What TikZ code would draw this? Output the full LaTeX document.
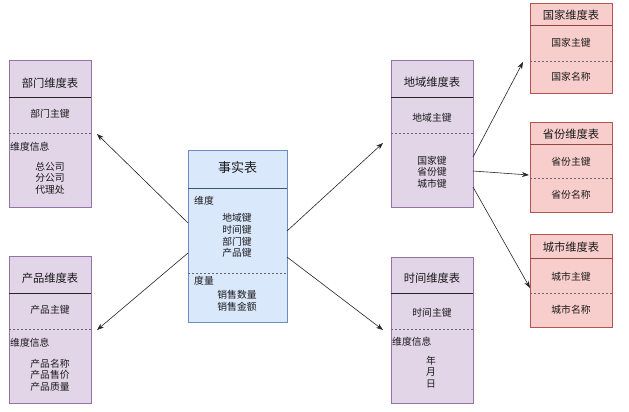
\documentclass[tikz,border=0pt]{standalone}
\usepackage{fontspec}
\setmainfont{Noto Sans CJK SC}
\usetikzlibrary{arrows.meta}
\definecolor{pfill}{HTML}{E1D5E7}
\definecolor{pdraw}{HTML}{9673A6}
\definecolor{bfill}{HTML}{DAE8FC}
\definecolor{bdraw}{HTML}{6C8EBF}
\definecolor{rfill}{HTML}{F8CECC}
\definecolor{rdraw}{HTML}{B85450}
\definecolor{tx}{HTML}{1A1A1A}
\begin{document}
\begin{tikzpicture}[x=1pt,y=-1pt,
  tbl/.style={line width=0.8pt, anchor=north west, inner sep=0pt, outer sep=0pt},
  ptbl/.style={tbl, draw=pdraw, fill=pfill},
  btbl/.style={tbl, draw=bdraw, fill=bfill},
  rtbl/.style={tbl, draw=rdraw, fill=rfill},
  sepline/.style={draw=black!85, line width=0.8pt},
  rsep/.style={draw=rdraw!80!black, line width=0.8pt},
  dashline/.style={draw=black!60, line width=0.7pt, dash pattern=on 2pt off 2pt},
  ttl/.style={font=\fontsize{11.3}{12}\selectfont, text=tx, inner sep=0pt},
  txt/.style={font=\fontsize{9.8}{11.6}\selectfont, text=tx, inner sep=0pt, align=center},
  ltxt/.style={font=\fontsize{9.8}{11.6}\selectfont, text=tx, inner sep=0pt, anchor=west},
  arr/.style={-{Stealth[length=7pt,width=5pt]}, line width=0.6pt, draw=black!85}]
\useasboundingbox[fill=white] (0,0) rectangle (629,412);

% ---------- 部门维度表 ----------
\node[ptbl, minimum width=82pt, minimum height=147pt] (bm) at (9,60) {};
\draw[sepline] (9,97) -- (91,97);
\draw[dashline] (9,133) -- (91,133);
\node[ttl] (bmt) at (50,83) {部门维度表};
\node[txt] (bmk) at (50,114) {部门主键};
\node[ltxt] (bmi) at (10,147) {维度信息};
\node[txt] (bml) at (50,178) {总公司\\分公司\\代理处};

% ---------- 产品维度表 ----------
\node[ptbl, minimum width=82pt, minimum height=147pt] (cp) at (9,256) {};
\draw[sepline] (9,293) -- (91,293);
\draw[dashline] (9,329) -- (91,329);
\node[ttl] (cpt) at (50,278) {产品维度表};
\node[txt] (cpk) at (50,310) {产品主键};
\node[ltxt] (cpi) at (10,343) {维度信息};
\node[txt] (cpl) at (50,375) {产品名称\\产品售价\\产品质量};

% ---------- 事实表 ----------
\node[btbl, minimum width=99pt, minimum height=172pt] (fact) at (188,150) {};
\draw[draw=bdraw!60!black, line width=0.8pt] (188,188) -- (287,188);
\draw[dashline] (188,273) -- (287,273);
\node[font=\fontsize{13}{14}\selectfont, text=tx, inner sep=0pt] (factt) at (237.5,168) {事实表};
\node[ltxt] (factw) at (194,201) {维度};
\node[txt] (factk) at (237,235.5) {地域键\\时间键\\部门键\\产品键};
\node[ltxt] (factm) at (194,281) {度量};
\node[txt] (factv) at (237,301) {销售数量\\销售金额};

% ---------- 地域维度表 ----------
\node[ptbl, minimum width=82pt, minimum height=147pt] (dy) at (391,60) {};
\draw[sepline] (391,97) -- (473,97);
\draw[dashline] (391,133) -- (473,133);
\node[ttl] (dyt) at (432,82) {地域维度表};
\node[txt] (dyk) at (432,118) {地域主键};
\node[txt] (dyl) at (432,172) {国家键\\省份键\\城市键};

% ---------- 时间维度表 ----------
\node[ptbl, minimum width=82pt, minimum height=146pt] (sj) at (391,257) {};
\draw[sepline] (391,293) -- (473,293);
\draw[dashline] (391,329) -- (473,329);
\node[ttl] (sjt) at (432,278) {时间维度表};
\node[txt] (sjk) at (432,313) {时间主键};
\node[ltxt] (sji) at (392,342) {维度信息};
\node[txt] (sjl) at (431,372) {年\\月\\日};

% ---------- 国家维度表 ----------
\node[rtbl, minimum width=82pt, minimum height=90pt] (gj) at (530,3) {};
\draw[rsep] (530,25) -- (612,25);
\draw[dashline] (530,61) -- (612,61);
\node[ttl] (gjt) at (571,15) {国家维度表};
\node[txt] (gjk) at (571,43) {国家主键};
\node[txt] (gjn) at (571,77) {国家名称};

% ---------- 省份维度表 ----------
\node[rtbl, minimum width=82pt, minimum height=90pt] (sf) at (530,122) {};
\draw[rsep] (530,144) -- (612,144);
\draw[dashline] (530,178) -- (612,178);
\node[ttl] (sft) at (571,134) {省份维度表};
\node[txt] (sfk) at (571,162) {省份主键};
\node[txt] (sfn) at (571,195) {省份名称};

% ---------- 城市维度表 ----------
\node[rtbl, minimum width=82pt, minimum height=93pt] (cs) at (530,234) {};
\draw[rsep] (530,258) -- (612,258);
\draw[dashline] (530,293) -- (612,293);
\node[ttl] (cst) at (571,247) {城市维度表};
\node[txt] (csk) at (571,277) {城市主键};
\node[txt] (csn) at (571,310) {城市名称};

% ---------- connector ends ----------
\coordinate (f1) at (188,223);
\coordinate (f2) at (188,253);
\coordinate (f3) at (287,231);
\coordinate (f4) at (287,257);
\coordinate (bmin) at (97,134);
\coordinate (cpin) at (97,330);
\coordinate (dyin) at (383,143);
\coordinate (sjin) at (383,330);
\coordinate (d1) at (473,157);
\coordinate (d2) at (473,171);
\coordinate (d3) at (473,187);
\coordinate (gjin) at (523,62);
\coordinate (sfin) at (529,175);
\coordinate (csin) at (530,288);

\draw[arr] (f1) -- (bmin);
\draw[arr] (f2) -- (cpin);
\draw[arr] (f3) -- (dyin);
\draw[arr] (f4) -- (sjin);
\draw[arr] (d1) -- (gjin);
\draw[arr] (d2) -- (sfin);
\draw[arr] (d3) -- (csin);
\end{tikzpicture}
\end{document}
